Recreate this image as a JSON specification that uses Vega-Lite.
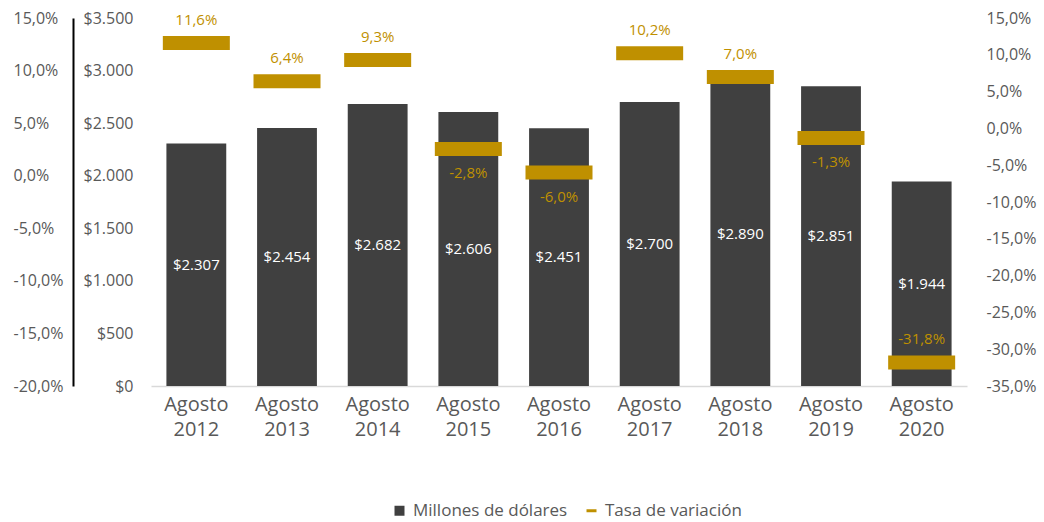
{
  "$schema": "https://vega.github.io/schema/vega-lite/v6.json",
  "width": 816,
  "height": 368,
  "autosize": {"type": "none"},
  "padding": {"left": 151, "top": 18, "right": 77, "bottom": 136},
  "background": "white",
  "data": {
    "values": [
      {"periodo": "Agosto 2012", "usd": 2307, "pct": 0.116},
      {"periodo": "Agosto 2013", "usd": 2454, "pct": 0.064},
      {"periodo": "Agosto 2014", "usd": 2682, "pct": 0.093},
      {"periodo": "Agosto 2015", "usd": 2606, "pct": -0.028},
      {"periodo": "Agosto 2016", "usd": 2451, "pct": -0.060},
      {"periodo": "Agosto 2017", "usd": 2700, "pct": 0.102},
      {"periodo": "Agosto 2018", "usd": 2890, "pct": 0.070},
      {"periodo": "Agosto 2019", "usd": 2851, "pct": -0.013},
      {"periodo": "Agosto 2020", "usd": 1944, "pct": -0.318}
    ]
  },
  "encoding": {
    "x": {
      "field": "periodo",
      "type": "nominal",
      "sort": null,
      "scale": {"paddingInner": 0.34, "paddingOuter": 0.17},
      "axis": {
        "title": null,
        "labelExpr": "split(datum.label, ' ')",
        "labelAngle": 0,
        "domain": true,
        "domainColor": "#D9D9D9",
        "domainWidth": 1.5,
        "ticks": false,
        "labelPadding": 8,
        "labelFontSize": 20,
        "labelLineHeight": 25,
        "labelBaseline": "top",
        "labelColor": "#595959"
      }
    }
  },
  "layer": [
    {
      "mark": {"type": "bar"},
      "encoding": {
        "y": {
          "field": "usd",
          "type": "quantitative",
          "scale": {"domain": [0, 3500], "nice": false},
          "axis": {
            "orient": "left",
            "title": null,
            "values": [0, 500, 1000, 1500, 2000, 2500, 3000, 3500],
            "format": "$,.0f",
            "labelPadding": 18,
            "domain": false
          }
        },
        "color": {
          "datum": "Millones de dólares",
          "type": "nominal",
          "scale": {"domain": ["Millones de dólares", "Tasa de variación"], "range": ["#404040", "#BF9000"]},
          "legend": {
            "title": null,
            "orient": "none",
            "legendX": 240,
            "legendY": 484,
            "direction": "horizontal",
            "labelFontSize": 17,
            "labelColor": "#595959",
            "labelOffset": 5,
            "columnPadding": 15,
            "symbolSize": 100,
            "symbolStrokeWidth": 0,
            "symbolOpacity": 1,
            "encode": {
              "symbols": {
                "update": {
                  "shape": {"signal": "datum.value === 'Millones de dólares' ? 'square' : 'M-1,-0.3H1V0.3H-1Z'"},
                  "opacity": {"value": 1}
                }
              }
            }
          }
        }
      }
    },
    {
      "mark": {"type": "tick", "size": 67, "thickness": 14, "opacity": 1},
      "encoding": {
        "y": {
          "field": "pct",
          "type": "quantitative",
          "scale": {"domain": [-0.35, 0.15], "nice": false, "zero": false},
          "axis": {
            "orient": "right",
            "title": null,
            "values": [-0.35, -0.3, -0.25, -0.2, -0.15, -0.1, -0.05, 0, 0.05, 0.1, 0.15],
            "format": ".1%",
            "labelAlign": "left",
            "labelPadding": 19,
            "domain": false
          }
        },
        "color": {"datum": "Tasa de variación", "type": "nominal"}
      }
    },
    {
      "transform": [{"filter": "datum.pct >= 0 || datum.pct < -0.2"}],
      "mark": {"type": "text", "dy": -23, "fontSize": 15, "color": "#BF9000", "baseline": "middle"},
      "encoding": {
        "y": {"field": "pct", "type": "quantitative", "scale": {"domain": [-0.35, 0.15], "nice": false, "zero": false}, "axis": null},
        "text": {"field": "pct", "type": "quantitative", "format": ".1%"}
      }
    },
    {
      "transform": [{"filter": "datum.pct < 0 && datum.pct >= -0.2"}],
      "mark": {"type": "text", "dy": 24, "fontSize": 15, "color": "#BF9000", "baseline": "middle"},
      "encoding": {
        "y": {"field": "pct", "type": "quantitative", "scale": {"domain": [-0.35, 0.15], "nice": false, "zero": false}, "axis": null},
        "text": {"field": "pct", "type": "quantitative", "format": ".1%"}
      }
    },
    {
      "mark": {"type": "text", "fontSize": 15, "color": "white", "baseline": "middle"},
      "encoding": {
        "y": {"field": "usd", "type": "quantitative", "scale": {"domain": [0, 7000], "nice": false}, "axis": null},
        "text": {"field": "usd", "type": "quantitative", "format": "$,.0f"}
      }
    },
    {
      "mark": {"type": "point", "opacity": 0},
      "encoding": {
        "y": {
          "field": "pct",
          "type": "quantitative",
          "scale": {"domain": [-0.2, 0.15], "nice": false, "zero": false},
          "axis": {
            "orient": "left",
            "title": null,
            "offset": 78,
            "values": [-0.2, -0.15, -0.1, -0.05, 0, 0.05, 0.1, 0.15],
            "format": ".1%",
            "labelAlign": "left",
            "labelPadding": 60,
            "domain": true,
            "domainColor": "#000000",
            "domainWidth": 2
          }
        }
      }
    }
  ],
  "resolve": {"scale": {"y": "independent"}, "axis": {"y": "independent"}},
  "config": {
    "locale": {
      "number": {"decimal": ",", "thousands": ".", "grouping": [3], "currency": ["$", ""], "minus": "-", "percent": "%"}
    },
    "font": "Open Sans",
    "view": {"stroke": null},
    "axis": {"grid": false, "ticks": false, "labelFont": "Open Sans", "labelFontSize": 16, "labelColor": "#595959"},
    "legend": {"labelFont": "Open Sans"},
    "text": {"font": "Open Sans"}
  }
}
